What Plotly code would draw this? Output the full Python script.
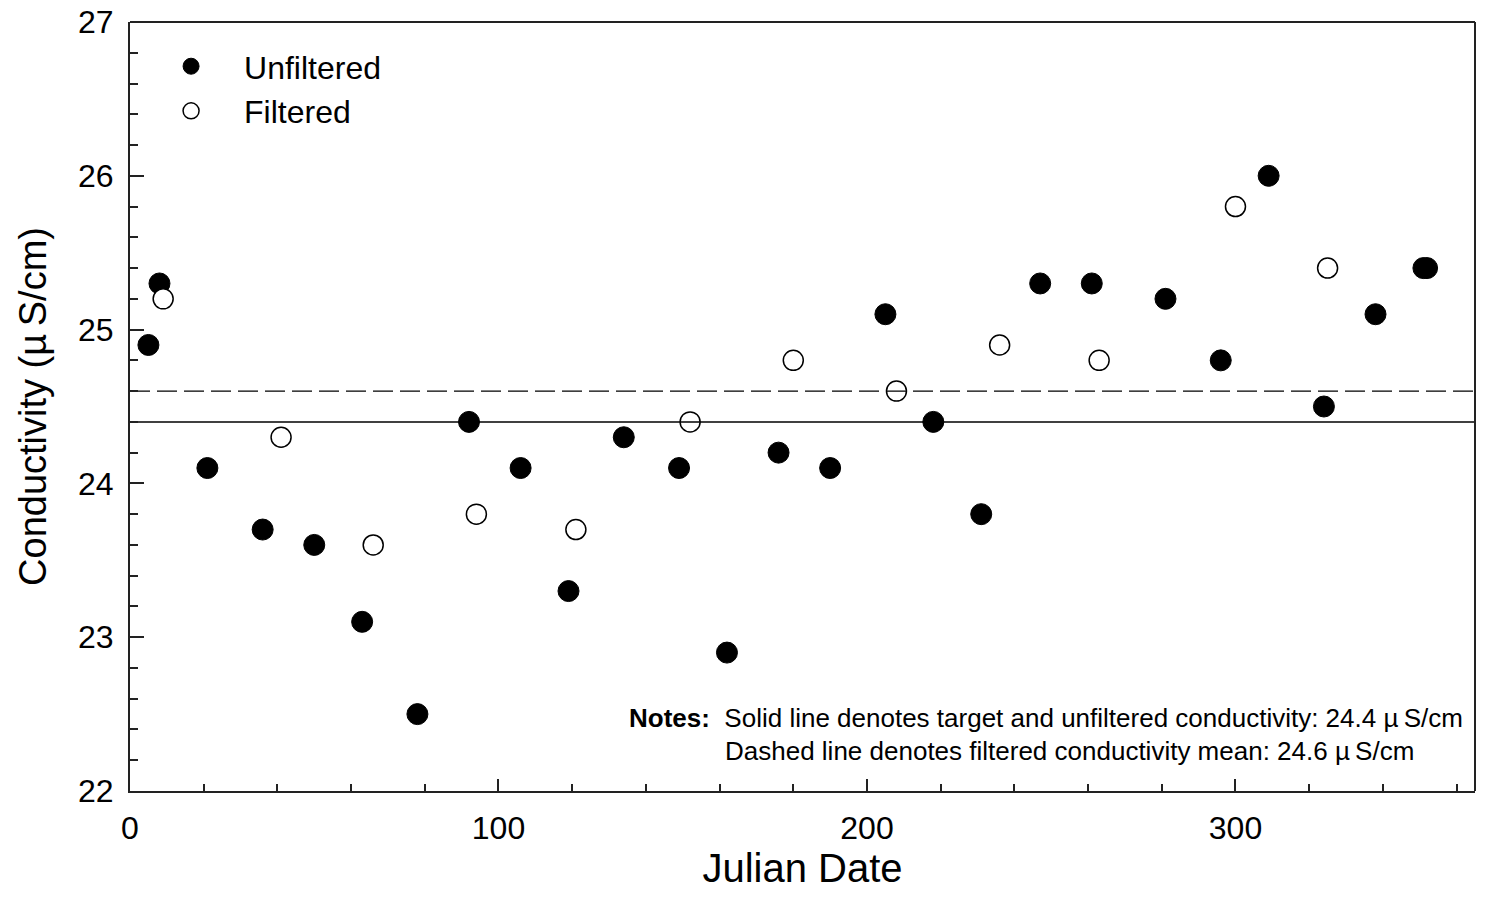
import plotly.graph_objects as go

# Julian date / conductivity samples
unfiltered_day = [5, 8, 21, 36, 50, 63, 78, 92, 106, 119, 134, 149, 162, 176, 190,
                  205, 218, 231, 247, 261, 281, 296, 309, 324, 338, 351, 352]
unfiltered_cond = [24.9, 25.3, 24.1, 23.7, 23.6, 23.1, 22.5, 24.4, 24.1, 23.3, 24.3, 24.1, 22.9, 24.2, 24.1,
                   25.1, 24.4, 23.8, 25.3, 25.3, 25.2, 24.8, 26.0, 24.5, 25.1, 25.4, 25.4]

filtered_day = [9, 41, 66, 94, 121, 152, 180, 208, 236, 263, 300, 325]
filtered_cond = [25.2, 24.3, 23.6, 23.8, 23.7, 24.4, 24.8, 24.6, 24.9, 24.8, 25.8, 25.4]

target_cond = 24.4
filtered_mean = 24.6

x_range = [0, 365]
y_range = [22, 27]
x_ticks = [0, 100, 200, 300]
y_ticks = [22, 23, 24, 25, 26, 27]

FONT = "Liberation Sans, Arial, sans-serif"

fig = go.Figure()

fig.add_trace(go.Scatter(
    x=unfiltered_day, y=unfiltered_cond, mode="markers", name="Unfiltered",
    marker=dict(size=21, color="black", line=dict(color="black", width=1)),
))
fig.add_trace(go.Scatter(
    x=filtered_day, y=filtered_cond, mode="markers", name="Filtered",
    marker=dict(size=20, color="white", line=dict(color="black", width=1.5)),
))

# Reference lines
fig.add_trace(go.Scatter(
    x=x_range, y=[target_cond, target_cond], mode="lines", showlegend=False,
    line=dict(color="black", width=1.5), hoverinfo="skip",
))
fig.add_trace(go.Scatter(
    x=x_range, y=[filtered_mean, filtered_mean], mode="lines", showlegend=False,
    line=dict(color="black", width=1.2, dash="20px,7px"), hoverinfo="skip",
))

# Top and right frame lines
fig.add_shape(type="line", xref="paper", yref="paper", x0=0, x1=1, y0=1, y1=1,
              line=dict(color="#222", width=2))
fig.add_shape(type="line", xref="paper", yref="paper", x0=1, x1=1, y0=0, y1=1,
              line=dict(color="#222", width=2))

fig.add_annotation(
    xref="paper", yref="paper", x=(627 - 130) / 1345, y=(791 - 718) / 769,
    xanchor="left", yanchor="middle", showarrow=False,
    text="<b>Notes:</b>  Solid line denotes target and unfiltered conductivity: 24.4 \u00b5\u2009S/cm",
    font=dict(family=FONT, size=26, color="black"),
)
fig.add_annotation(
    xref="paper", yref="paper", x=(723 - 130) / 1345, y=(791 - 751) / 769,
    xanchor="left", yanchor="middle", showarrow=False,
    text="Dashed line denotes filtered conductivity mean: 24.6 \u00b5\u2009S/cm",
    font=dict(family=FONT, size=26, color="black"),
)

fig.update_layout(
    width=1497, height=913,
    margin=dict(l=130, r=22, t=22, b=122, autoexpand=False),
    plot_bgcolor="white", paper_bgcolor="white",
    font=dict(family=FONT, size=32, color="black"),
    showlegend=True,
    legend=dict(
        x=0.006, y=0.978, xanchor="left", yanchor="top",
        bgcolor="rgba(0,0,0,0)", font=dict(size=32), itemwidth=96,
        tracegroupgap=0,
    ),
    xaxis=dict(
        range=x_range, tickvals=x_ticks, ticks="inside", ticklen=12, tickwidth=1.5,
        tickcolor="#222", showline=True, linecolor="#222", linewidth=2, automargin=False,
        showgrid=False, zeroline=False, tickfont=dict(size=32), ticklabelstandoff=8,
        minor=dict(dtick=20, ticks="inside", ticklen=7, tickwidth=1.5, tickcolor="#222", showgrid=False),
        title=dict(text="Julian Date", font=dict(size=40), standoff=4),
    ),
    yaxis=dict(
        range=y_range, tickvals=y_ticks, ticks="inside", ticklen=14, tickwidth=1.5,
        tickcolor="#222", showline=True, linecolor="#222", linewidth=2, automargin=False,
        showgrid=False, zeroline=False, tickfont=dict(size=32), ticklabelstandoff=8,
        minor=dict(dtick=0.2, ticks="inside", ticklen=8, tickwidth=1.5, tickcolor="#222", showgrid=False),
        title=dict(text="Conductivity (\u00b5\u2009S/cm)", font=dict(size=38), standoff=20),
    ),
)

fig.write_html("out.html")
